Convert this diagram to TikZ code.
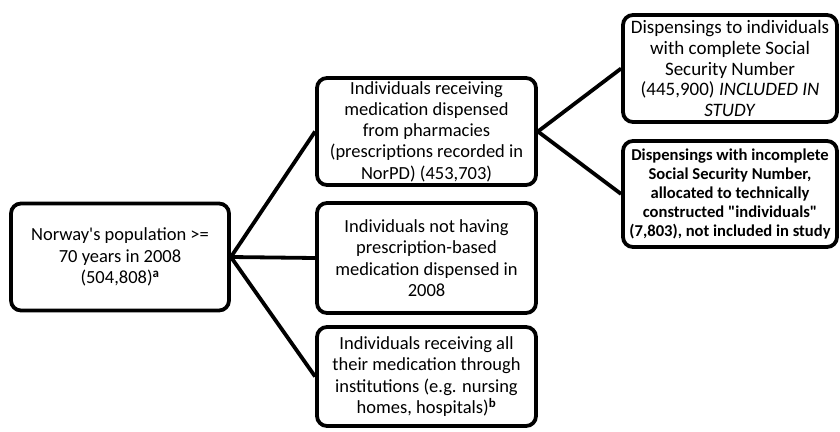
\documentclass[tikz,border=0pt]{standalone}
\usepackage{fontspec}
\setmainfont{Carlito}[Ligatures=TeXOff]
\begin{document}
\begin{tikzpicture}[x=1pt,y=-1pt,
  box/.style={draw=black,line width=3.8pt,rounded corners=10pt,rectangle,align=center,inner sep=1pt,font=\fontsize{18.5}{21.3}\selectfont},
  bigbox/.style={box,font=\fontsize{19}{20.6}\selectfont},
  boldbox/.style={box,font=\fontsize{16.6}{19}\selectfont\bfseries},
  link/.style={draw=black,line width=3.8pt}]
\useasboundingbox (0,0) rectangle (840,431);
\node[box,minimum width=218pt,minimum height=107pt] (left) at (120,257) {Norway's population >=\\70 years in 2008\\(504,808)\textsuperscript{\textbf{a}}};
\node[box,minimum width=219pt,minimum height=107pt] (mid1) at (426.5,131.5) {Individuals receiving\\medication dispensed\\from pharmacies\\(prescriptions recorded in\\NorPD) (453,703)};
\node[box,minimum width=219pt,minimum height=110pt] (mid2) at (426.5,258) {Individuals not having\\prescription-based\\medication dispensed in\\2008};
\node[box,minimum width=219pt,minimum height=99pt] (mid3) at (426.5,376.5) {Individuals receiving all\\their medication through\\institutions (e.g. nursing\\homes, hospitals)\textsuperscript{\textbf{b}}};
\node[bigbox,minimum width=214pt,minimum height=107pt] (right1) at (730,68.5) {Dispensings to individuals\\with complete Social\\Security Number\\(445,900) \textit{INCLUDED IN}\\\textit{STUDY}};
\node[boldbox,minimum width=214pt,minimum height=106pt] (right2) at (730,194) {Dispensings with incomplete\\Social Security Number,\\allocated to technically\\constructed "individuals"\\(7,803), not included in study};
\draw[link] (left.east) -- (mid1.west);
\draw[link] (left.east) -- (mid2.west);
\draw[link] (left.east) -- (mid3.west);
\draw[link] (mid1.east) -- (right1.west);
\draw[link] (mid1.east) -- (right2.west);
\end{tikzpicture}
\end{document}
